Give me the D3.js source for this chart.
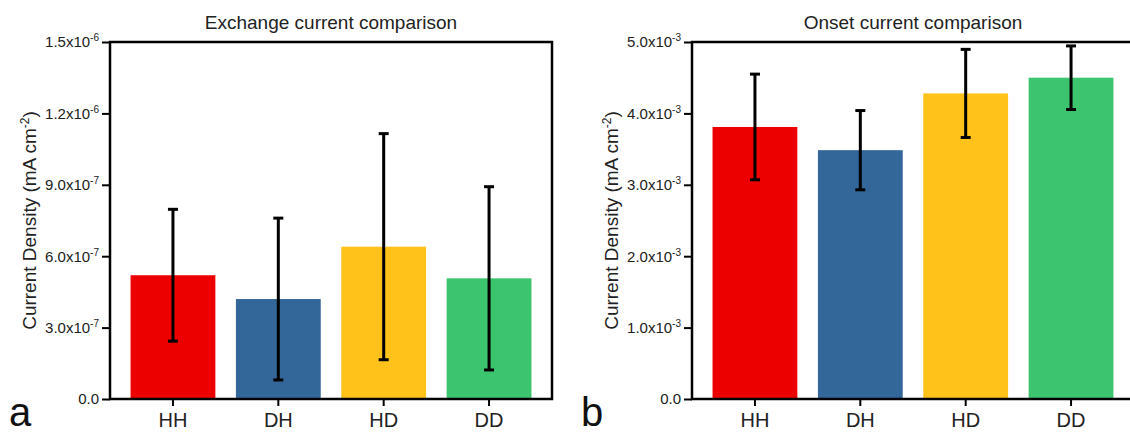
<!DOCTYPE html>
<html>
<head>
<meta charset="utf-8">
<script src="https://cdn.jsdelivr.net/npm/d3@7"></script>
<style>
  body { margin: 0; background: #fff; }
  svg { display: block; font-family: "Liberation Sans", Arial, sans-serif; }
</style>
</head>
<body>
<div id="chart"></div>
<script>
// categories shared by both panels
var categories = ["HH", "DH", "HD", "DD"];
var barColors = ["#ec0000", "#336699", "#ffc21a", "#3cc46f"];

// panel a - exchange current
var exchangeMean = [5.20e-7, 4.20e-7, 6.40e-7, 5.07e-7];
var exchangeErr = [2.77e-7, 3.40e-7, 4.75e-7, 3.85e-7];
var exchangeTicks = [0, 3e-7, 6e-7, 9e-7, 1.2e-6, 1.5e-6];
var exchangeTickLabels = ["0.0", "3.0x10^-7", "6.0x10^-7", "9.0x10^-7", "1.2x10^-6", "1.5x10^-6"];

// panel b - onset current
var onsetMean = [3.81e-3, 3.485e-3, 4.28e-3, 4.50e-3];
var onsetErr = [0.74e-3, 0.555e-3, 0.617e-3, 0.445e-3];
var onsetTicks = [0, 1e-3, 2e-3, 3e-3, 4e-3, 5e-3];
var onsetTickLabels = ["0.0", "1.0x10^-3", "2.0x10^-3", "3.0x10^-3", "4.0x10^-3", "5.0x10^-3"];

var svgWidth = 1130;
var svgHeight = 435;

var svg = d3.select("#chart")
  .append("svg")
  .attr("width", svgWidth)
  .attr("height", svgHeight);

function drawPanel(p) {
  var x = d3.scaleBand().domain(categories).range([p.left, p.right]).padding(0.195);
  var y = d3.scaleLinear().domain([0, p.ticks[p.ticks.length - 1]]).range([p.bottom, p.top]);
  var g = svg.append("g");

  // bars
  g.selectAll("rect.bar")
    .data(p.means)
    .enter().append("rect")
    .attr("class", "bar")
    .attr("x", function(d, i) { return x(categories[i]); })
    .attr("y", function(d) { return y(d); })
    .attr("width", x.bandwidth())
    .attr("height", function(d) { return y(0) - y(d); })
    .attr("fill", function(d, i) { return barColors[i]; });

  // error bars
  var eb = g.selectAll("g.err")
    .data(p.means)
    .enter().append("g")
    .attr("class", "err")
    .attr("stroke", "#000")
    .attr("stroke-width", 3);
  function cx(i) { return x(categories[i]) + x.bandwidth() / 2; }
  eb.append("line")
    .attr("x1", function(d, i) { return cx(i); })
    .attr("x2", function(d, i) { return cx(i); })
    .attr("y1", function(d, i) { return y(d - p.errs[i]); })
    .attr("y2", function(d, i) { return y(d + p.errs[i]); });
  [-1, 1].forEach(function(s) {
    eb.append("line")
      .attr("x1", function(d, i) { return cx(i) - 5; })
      .attr("x2", function(d, i) { return cx(i) + 5; })
      .attr("y1", function(d, i) { return y(d + s * p.errs[i]); })
      .attr("y2", function(d, i) { return y(d + s * p.errs[i]); });
  });

  // frame
  g.append("rect")
    .attr("x", p.left)
    .attr("y", p.top)
    .attr("width", p.right - p.left)
    .attr("height", p.bottom - p.top)
    .attr("fill", "none")
    .attr("stroke", "#000")
    .attr("stroke-width", 2.5);

  // y axis
  var yAxis = g.append("g")
    .attr("transform", "translate(" + p.left + ",0)")
    .call(d3.axisLeft(y).tickValues(p.ticks).tickSize(8).tickPadding(3));
  yAxis.select(".domain").remove();
  yAxis.attr("font-size", 15).attr("font-family", null);
  yAxis.selectAll(".tick line").attr("stroke-width", 2);
  yAxis.selectAll(".tick text")
    .attr("fill", "#222")
    .each(function(d, i) {
      var parts = p.tickLabels[i].split("^");
      var t = d3.select(this).text(parts[0]);
      if (parts[1]) {
        t.append("tspan").attr("dy", -6).attr("font-size", 10).text(parts[1]);
      }
    });

  // x axis
  var xAxis = g.append("g")
    .attr("transform", "translate(0," + p.bottom + ")")
    .call(d3.axisBottom(x).tickSize(7).tickPadding(7));
  xAxis.select(".domain").remove();
  xAxis.attr("font-size", 20).attr("font-family", null);
  xAxis.selectAll(".tick line").attr("stroke-width", 2);
  xAxis.selectAll(".tick text").attr("fill", "#222");

  // title
  g.append("text")
    .attr("x", (p.left + p.right) / 2)
    .attr("y", 29)
    .attr("text-anchor", "middle")
    .attr("font-size", 19)
    .attr("fill", "#222")
    .text(p.title);

  // y label
  var yl = g.append("text")
    .attr("transform", "translate(" + (p.left - 74) + "," + ((p.top + p.bottom) / 2) + ") rotate(-90)")
    .attr("text-anchor", "middle")
    .attr("font-size", 19)
    .attr("fill", "#222");
  yl.append("tspan").text("Current Density (mA cm");
  yl.append("tspan").attr("dy", -7).attr("font-size", 12).text("-2");
  yl.append("tspan").attr("dy", 7).text(")");

  // panel letter
  g.append("text")
    .attr("x", p.letterX)
    .attr("y", 426)
    .attr("font-size", 40)
    .attr("fill", "#111")
    .text(p.letter);
}

drawPanel({
  left: 110, right: 552, top: 42, bottom: 399,
  title: "Exchange current comparison",
  means: exchangeMean, errs: exchangeErr,
  ticks: exchangeTicks, tickLabels: exchangeTickLabels,
  letter: "a", letterX: 9
});

drawPanel({
  left: 692, right: 1134, top: 42, bottom: 399,
  title: "Onset current comparison",
  means: onsetMean, errs: onsetErr,
  ticks: onsetTicks, tickLabels: onsetTickLabels,
  letter: "b", letterX: 581
});
</script>
</body>
</html>
